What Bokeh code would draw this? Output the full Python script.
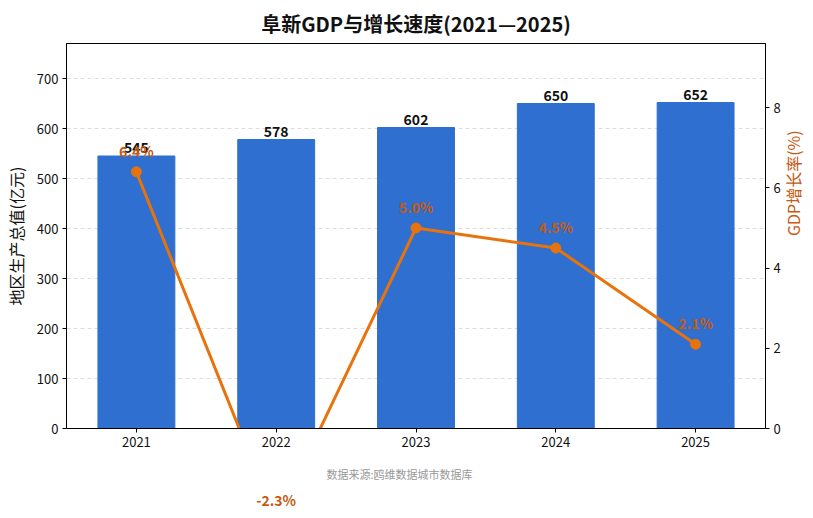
import math
from bokeh.plotting import figure
from bokeh.models import (ColumnDataSource, Range1d, LinearAxis, LabelSet, Title,
                          SingleIntervalTicker)
from bokeh.core.properties import value
from bokeh.embed import file_html
from bokeh.resources import INLINE

years = ["2021", "2022", "2023", "2024", "2025"]
gdp = [545, 578, 602, 650, 652]
growth = [6.4, -2.3, 5.0, 4.5, 2.1]
gdp_labels = [str(v) for v in gdp]
growth_labels = [f"{v:.1f}%" for v in growth]

FONT = "Noto Sans CJK SC"
BAR = "#2f6fcf"
LINE = "#e8730c"
LBL = "#c55a11"

src = ColumnDataSource(dict(x=years, gdp=gdp, g=growth, gl=gdp_labels, pl=growth_labels))

p = figure(x_range=years, y_range=Range1d(0, 770), frame_width=699, frame_height=385,
           output_backend="svg", toolbar_location=None,
           min_border_left=58, min_border_right=40, min_border_top=37, min_border_bottom=88)
p.extra_y_ranges = {"right": Range1d(0, 9.6)}

p.title.text = "阜新GDP与增长速度(2021—2025)"
p.title.align = "center"
p.title.text_font = FONT
p.title.text_font_size = "20px"
p.title.text_font_style = "bold"
p.title.text_color = "#111111"
p.title.standoff = 12

p.vbar(x="x", top="gdp", width=0.55, color=BAR, source=src)
p.line(x="x", y="g", y_range_name="right", color=LINE, line_width=3, source=src)
p.scatter(x="x", y="g", y_range_name="right", color=LINE, size=10, source=src)

p.add_layout(LabelSet(x="x", y="gdp", text="gl", source=src, y_offset=3,
                      text_align="center", text_baseline="bottom",
                      text_font=value(FONT), text_font_size="14px", text_font_style="bold",
                      text_color="#111111"))
# growth labels drawn on the overlay level so the negative one is not clipped
p.text(x="x", y="g", text="pl", source=src, y_range_name="right", y_offset=-11,
       text_align="center", text_baseline="bottom", level="overlay",
       text_font=value(FONT), text_font_size="14px", text_font_style="bold",
       text_color=LBL)

ax_r = LinearAxis(y_range_name="right", ticker=SingleIntervalTicker(interval=2),
                  axis_label="GDP增长率(%)")
p.add_layout(ax_r, "right")

for ax in p.axis:
    ax.major_label_text_font = FONT
    ax.major_label_text_font_size = "13px"
    ax.major_label_text_color = "#111111"
    ax.axis_label_text_font = FONT
    ax.axis_label_text_font_size = "16px"
    ax.axis_label_text_font_style = "normal"
    ax.minor_tick_line_color = None
    ax.major_tick_out = 4
    ax.major_tick_in = 0
    ax.axis_line_color = "black"
    ax.major_tick_line_color = "black"
    ax.major_label_standoff = 4

p.yaxis[0].ticker = SingleIntervalTicker(interval=100)
p.yaxis[0].axis_label = "地区生产总值(亿元)"
p.yaxis[0].axis_label_text_color = "#111111"
p.yaxis[0].axis_label_standoff = 6
ax_r.axis_label_text_color = LBL
ax_r.axis_label_standoff = 9
ax_r.axis_label_orientation = math.pi / 2

p.xgrid.grid_line_color = None
p.ygrid.grid_line_color = "#dddddd"
p.ygrid.grid_line_dash = "4 3"
p.outline_line_color = "black"
p.outline_line_width = 1

note = Title(text="数据来源:鸥维数据城市数据库", align="left", offset=260, standoff=28,
             text_font=FONT, text_font_size="11px", text_font_style="normal",
             text_color="#999999")
p.add_layout(note, "below")

open("out.html", "w").write(file_html(p, INLINE))
